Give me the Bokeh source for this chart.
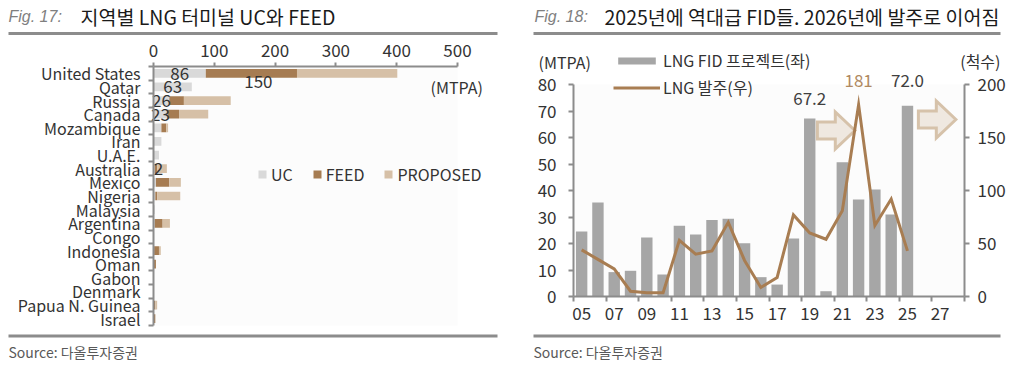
import numpy as np
from bokeh.plotting import figure
from bokeh.models import (ColumnDataSource, Range1d, LinearAxis, FixedTicker, Label,
                          BoxAnnotation, Legend, LegendItem)
from bokeh.embed import file_html
from bokeh.resources import INLINE
from bokeh.core.properties import value

KR = "Noto Sans CJK KR"
IT = "Liberation Sans"

# ---------------- Fig. 17 data ----------------
countries = ["United States", "Qatar", "Russia", "Canada", "Mozambique", "Iran", "U.A.E.",
             "Australia", "Mexico", "Nigeria", "Malaysia", "Argentina", "Congo", "Indonesia",
             "Oman", "Gabon", "Denmark", "Papua N. Guinea", "Israel"]
uc       = [86, 63, 26, 23, 13, 13, 9, 2, 4, 3, 2, 2, 1, 1, 0, 0, 0, 0, 0]
feed     = [150, 0, 24, 19, 8, 0, 0, 4, 22, 3, 0, 13, 0, 8, 4, 0, 0, 3, 3]
proposed = [165, 0, 77, 48, 3, 0, 0, 16, 19, 38, 0, 12, 0, 3, 0, 0, 0, 3, 0]
x_ticks_17 = [0, 100, 200, 300, 400, 500]
uc_label_text = ["86", "63", "26", "23", "2"]
uc_label_rows = ["United States", "Qatar", "Russia", "Canada", "Australia"]
feed_label_text = ["150"]
feed_label_rows = ["United States"]

# ---------------- Fig. 18 data ----------------
years = list(range(2005, 2026))
fid_mtpa = [24.5, 35.5, 9.2, 9.7, 22.3, 8.3, 26.7, 23.4, 28.9, 29.3, 20.1,
            7.3, 4.5, 21.9, 67.2, 2.0, 50.7, 36.6, 40.4, 30.9, 72.0]
orders = [44, 35, 26, 5, 3.5, 3.5, 53, 40, 43, 70, 34,
          8.5, 18, 77, 60, 54, 81, 181, 67, 92, 43]
x_tick_years_18 = [2005, 2007, 2009, 2011, 2013, 2015, 2017, 2019, 2021, 2023, 2025, 2027]
x_tick_labels_18 = ["05", "07", "09", "11", "13", "15", "17", "19", "21", "23", "25", "27"]
left_ticks_18 = [0, 10, 20, 30, 40, 50, 60, 70, 80]
right_ticks_18 = [0, 50, 100, 150, 200]
fid_label_years = [2019, 2025]

UC_C = "#d9d9d9"
FEED_C = "#a67c52"
PROP_C = "#d6c0a7"
BAR_C = "#a6a6a6"
LINE_C = "#a87d52"
AX_C = "#8c8c8c"
TXT = "#333333"
RULE_C = "#8c8c8c"
BG = "#fcfcfc"

# Bokeh's page template has no body margin, so the canvas starts at (0, 0)
W, H = 1013, 366
OX, OY = 0, 0


def px_x(abs_x):
    return abs_x - OX


def px_y(abs_y):  # pixels from frame bottom, upward
    return OY + H - abs_y


def lin_range(p0, v0, p1, v1, total):
    s = (v1 - v0) / (p1 - p0)
    start = v0 - p0 * s
    return Range1d(start=start, end=start + total * s)


n = len(countries)
p = figure(width=W, height=H, x_range=Range1d(0, W), y_range=Range1d(0, H),
           x_axis_type=None, y_axis_type=None, toolbar_location=None, output_backend="svg",
           min_border_left=0, min_border_right=0, min_border_top=0, min_border_bottom=0)
p.outline_line_color = None
p.background_fill_color = "white"
p.border_fill_color = "white"
p.extra_x_ranges = {
    "x1": lin_range(px_x(153), 0, px_x(457), 500, W),
    "x2": lin_range(px_x(573), 2004.5, px_x(964), 2028.5, W),
}
p.extra_y_ranges = {
    "y1": lin_range(px_y(66), -0.5, px_y(325), n - 0.5, H),
    "y2": lin_range(px_y(296), 0, px_y(84), 80, H),
    "r2": lin_range(px_y(296), 0, px_y(84), 200, H),
}


def put_text(x, y, text, size, color=TXT, align="left", font=KR, style="normal"):
    p.add_layout(Label(x=px_x(x), y=px_y(y), x_units="screen", y_units="screen",
                       text=text, text_align=align, text_baseline="middle",
                       text_font=font, text_font_size=f"{size}px", text_color=color,
                       text_font_style=style))


def put_box(x0, x1, y0, y1, color, level="overlay"):
    p.add_layout(BoxAnnotation(left=px_x(x0), right=px_x(x1), top=px_y(y0), bottom=px_y(y1),
                               left_units="screen", right_units="screen",
                               top_units="screen", bottom_units="screen",
                               fill_color=color, fill_alpha=1.0, line_color=None,
                               level=level))


def style_axis(ax, size="17px", standoff=6):
    ax.axis_line_color = AX_C
    ax.axis_line_width = 2
    ax.major_tick_line_color = AX_C
    ax.major_tick_line_width = 2
    ax.major_tick_in = 0
    ax.major_tick_out = 5
    ax.minor_tick_line_color = None
    ax.major_label_standoff = standoff
    ax.major_label_text_font = KR
    ax.major_label_text_font_size = size
    ax.major_label_text_color = TXT


# plot-area backgrounds
put_box(153, 457, 66, 325, BG, level="underlay")
put_box(573, 964, 84, 296, BG, level="underlay")

# ================= Fig. 17 =================
idx = list(range(n))
uc_a = np.array(uc, dtype=float)
feed_a = np.array(feed, dtype=float)
prop_a = np.array(proposed, dtype=float)
src1 = ColumnDataSource(dict(y=idx, zero=np.zeros(n), e1=uc_a, e2=uc_a + feed_a,
                             e3=uc_a + feed_a + prop_a))
BH = 0.64
kw1 = dict(x_range_name="x1", y_range_name="y1", source=src1, height=BH, line_color=None)
r_uc = p.hbar(y="y", left="zero", right="e1", fill_color=UC_C, **kw1)
r_feed = p.hbar(y="y", left="e1", right="e2", fill_color=FEED_C, **kw1)
r_prop = p.hbar(y="y", left="e2", right="e3", fill_color=PROP_C, **kw1)

ux = [max(uc[countries.index(r)] / 2.0, 8) for r in uc_label_rows]
uy = [countries.index(r) for r in uc_label_rows]
p.text(x=ux, y=uy, text=uc_label_text, x_range_name="x1", y_range_name="y1",
       text_align="center", text_baseline="middle",
       text_font=value(KR), text_font_size="17px", text_color=TXT)
fx = [uc[countries.index(r)] + feed[countries.index(r)] / 2.0 for r in feed_label_rows]
fy = [countries.index(r) for r in feed_label_rows]
p.text(x=fx, y=fy, text=feed_label_text, x_range_name="x1", y_range_name="y1",
       text_align="center", text_baseline="middle", x_offset=7, y_offset=8,
       text_font=value(KR), text_font_size="17px", text_color=TXT)

ax1 = LinearAxis(x_range_name="x1", y_range_name="y1", fixed_location=-0.5, bounds=(0, 500),
                 ticker=FixedTicker(ticks=x_ticks_17))
style_axis(ax1, size="17px", standoff=6)
ax1.major_tick_out = 4
p.add_layout(ax1, "above")

ay1 = LinearAxis(x_range_name="x1", y_range_name="y1", fixed_location=0,
                 bounds=(-0.5, n - 0.5),
                 ticker=FixedTicker(ticks=idx, minor_ticks=[i - 0.5 for i in range(n + 1)]))
style_axis(ay1, size="16px", standoff=8)
ay1.major_label_overrides = {i: c for i, c in enumerate(countries)}
ay1.major_tick_line_color = None
ay1.minor_tick_line_color = AX_C
ay1.minor_tick_line_width = 2
ay1.minor_tick_in = 0
ay1.minor_tick_out = 5
p.add_layout(ay1, "left")

leg1 = Legend(items=[LegendItem(label="UC", renderers=[r_uc]),
                     LegendItem(label="FEED", renderers=[r_feed]),
                     LegendItem(label="PROPOSED", renderers=[r_prop])],
              orientation="horizontal", location=(px_x(257), px_y(186)),
              glyph_width=10, glyph_height=10, label_standoff=4, spacing=19,
              padding=0, margin=0, border_line_color=None, background_fill_alpha=0,
              label_text_font=KR, label_text_font_size="16px", label_text_color=TXT,
              label_height=18)
p.add_layout(leg1)

put_text(8, 16, "Fig. 17:", 16, color="#7f7f7f", font=IT, style="italic")
put_text(80, 16, "지역별 LNG 터미널 UC와 FEED", 19.5, color="#1a1a1a")
put_box(8, 497, 31.5, 34.5, RULE_C)
put_text(430, 86, "(MTPA)", 16)
put_box(8, 497, 334, 337, RULE_C)
put_text(8, 351, "Source:  다올투자증권", 14, color="#595959")

# ================= Fig. 18 =================
src2 = ColumnDataSource(dict(x=years, fid=fid_mtpa, orders=orders))
r_bar = p.vbar(x="x", top="fid", width=0.7, source=src2, x_range_name="x2", y_range_name="y2",
               fill_color=BAR_C, line_color=None)


def arrow(x0, yc, length, head_len, body_half, head_half):
    xh = x0 + length - head_len
    xs = [x0, xh, xh, x0 + length, xh, xh, x0]
    ys = [yc + body_half, yc + body_half, yc + head_half, yc, yc - head_half,
          yc - body_half, yc - body_half]
    return xs, ys


for (ax0, ayc) in [(2019.47, 156.6), (2025.67, 167.0)]:
    axs, ays = arrow(ax0, ayc, 2.3, 1.2, 8.0, 17.5)
    p.patch(axs, ays, x_range_name="x2", y_range_name="r2", fill_color="#efe8e0",
            line_color="#d6c2aa", line_width=3, line_join="miter")

r_line = p.line(x="x", y="orders", source=src2, x_range_name="x2", y_range_name="r2",
                line_color=LINE_C, line_width=3, line_join="miter")

lab_vals = [fid_mtpa[years.index(yv)] for yv in fid_label_years]
p.text(x=fid_label_years, y=lab_vals, text=[f"{v:.1f}" for v in lab_vals],
       x_range_name="x2", y_range_name="y2",
       text_align="center", text_baseline="middle", y_offset=[-20, -25],
       text_font=value(KR), text_font_size="17px", text_color="#404040")
pk = int(np.argmax(orders))
p.text(x=[years[pk]], y=[orders[pk]], text=[f"{orders[pk]:.0f}"],
       x_range_name="x2", y_range_name="r2",
       text_align="center", text_baseline="middle", y_offset=-24,
       text_font=value(KR), text_font_size="17px", text_color="#b08a62")

xb = LinearAxis(x_range_name="x2", y_range_name="y2", fixed_location=0,
                bounds=(2004.5, 2028.5),
                ticker=FixedTicker(ticks=x_tick_years_18,
                                   minor_ticks=[2004.5 + 2 * k for k in range(13)]))
style_axis(xb, size="17px", standoff=5)
xb.major_label_overrides = {yv: t for yv, t in zip(x_tick_years_18, x_tick_labels_18)}
xb.major_tick_line_color = None
xb.minor_tick_line_color = AX_C
xb.minor_tick_line_width = 2
xb.minor_tick_in = 0
xb.minor_tick_out = 5
p.add_layout(xb, "below")

yl = LinearAxis(x_range_name="x2", y_range_name="y2", fixed_location=2004.5, bounds=(0, 80),
                ticker=FixedTicker(ticks=left_ticks_18))
style_axis(yl, size="17px", standoff=12)
p.add_layout(yl, "left")

yr = LinearAxis(x_range_name="x2", y_range_name="r2", fixed_location=2028.5, bounds=(0, 200),
                ticker=FixedTicker(ticks=right_ticks_18))
style_axis(yr, size="17px", standoff=8)
p.add_layout(yr, "right")

leg2 = Legend(items=[LegendItem(label="LNG FID 프로젝트(좌)", renderers=[r_bar]),
                     LegendItem(label="LNG 발주(우)", renderers=[r_line])],
              orientation="vertical", location=(px_x(613), px_y(99)),
              glyph_width=47, glyph_height=9, label_standoff=3, spacing=3,
              padding=0, margin=0, border_line_color=None, background_fill_alpha=0,
              label_text_font=KR, label_text_font_size="16px", label_text_color=TXT,
              label_height=19)
p.add_layout(leg2)

put_text(534, 16, "Fig. 18:", 16, color="#7f7f7f", font=IT, style="italic")
put_text(604, 16, "2025년에 역대급 FID들. 2026년에 발주로 이어짐", 19.5, color="#1a1a1a")
put_box(533, 1000, 31.5, 34.5, RULE_C)
put_text(538, 61, "(MTPA)", 16)
put_text(1000, 60, "(척수)", 16, align="right")
put_box(533, 1000, 334, 337, RULE_C)
put_text(533, 351, "Source:  다올투자증권", 14, color="#595959")

open("out.html", "w").write(file_html(p, INLINE, title="LNG"))
